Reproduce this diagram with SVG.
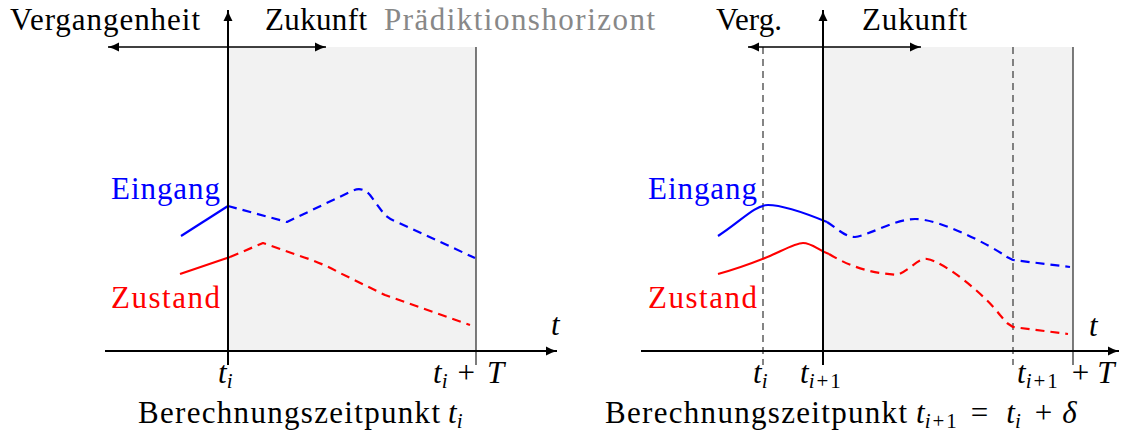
<svg xmlns="http://www.w3.org/2000/svg" width="1132" height="430" viewBox="0 0 1132 430">
<style>
text{font-family:"Liberation Serif",serif;font-size:31px;fill:#000}
.it{font-style:italic}
.sub{font-size:21px;font-style:italic}
.subn{font-size:21px;font-style:normal}
.gray{fill:#888}
.blue{fill:#0000ff}
.red{fill:#ff0000}
.axis{stroke:#000;stroke-width:2;fill:none}
.thin{stroke:#000;stroke-width:1.3;fill:none}
.border{stroke:#444;stroke-width:1.4;fill:none}
.vdash{stroke:#444;stroke-width:1.3;fill:none;stroke-dasharray:7 5}
.cb{stroke:#0000ff;stroke-width:2.2;fill:none;stroke-linejoin:round}
.cr{stroke:#ff0000;stroke-width:2.2;fill:none;stroke-linejoin:round}
.dash{stroke-dasharray:9 6}
.shade{fill:#f2f2f2}
</style>
<defs>
<marker id="ah" markerUnits="userSpaceOnUse" markerWidth="14" markerHeight="12" viewBox="-12 -6 14 12" refX="0" refY="0" orient="auto-start-reverse">
<path d="M-11,-4.5 Q-5,-1 0,0 Q-5,1 -11,4.5 Z" fill="#000"/>
</marker>
</defs>

<g id="panel-left">
<rect class="shade" x="228" y="47" width="248" height="304"/>
<line class="border" x1="476" y1="47" x2="476" y2="365"/>
</g>
<g id="panel-right">
<rect class="shade" x="823" y="47" width="250" height="304"/>
<line class="border" x1="1073" y1="47" x2="1073" y2="365"/>
<line class="vdash" x1="763" y1="47" x2="763" y2="365"/>
<line class="vdash" x1="1013" y1="47" x2="1013" y2="365"/>
</g>

<g id="curves-left">
<path class="cb" d="M181,236 L228,206"/>
<path class="cb dash" d="M228,206 L287,222 L352,191 Q362,186 370,195 L384,214 Q389,219 397,222 L475,258"/>
<path class="cr" d="M180,274 L230,257"/>
<path class="cr dash" d="M230,257 L263,243 L297,255 Q320,262 340,273 L385,295 L470,325"/>
</g>
<g id="curves-right">
<path class="cb" d="M718,236 C740,222 755,205 768,205 C785,205 810,215 827,222"/>
<path class="cb dash" d="M827,222 C838,229 845,237 855,237 C870,235 895,219 915,219 C940,219 990,245 1007,257 L1013,260 L1070,267"/>
<path class="cr" d="M718,274 C740,268 755,262 765,258 C780,252 795,243 803,243 C812,243 818,250 829,254"/>
<path class="cr dash" d="M829,254 C842,262 860,270 880,273 L897,275 C910,270 918,258 927,259 C945,262 985,295 1000,315 L1007,323 L1013,327 L1068,334"/>
</g>

<g id="connectors">
<line class="axis" x1="105" y1="351" x2="557" y2="351" marker-end="url(#ah)"/>
<line class="axis" x1="228" y1="365" x2="228" y2="10" marker-end="url(#ah)"/>
<line class="thin" x1="108" y1="47" x2="326" y2="47" marker-start="url(#ah)" marker-end="url(#ah)"/>
<line class="axis" x1="641" y1="351" x2="1119" y2="351" marker-end="url(#ah)"/>
<line class="axis" x1="823" y1="365" x2="823" y2="10" marker-end="url(#ah)"/>
<line class="thin" x1="748" y1="47" x2="921" y2="47" marker-start="url(#ah)" marker-end="url(#ah)"/>
</g>

<g id="labels-left">
<text x="10" y="30" textLength="190" lengthAdjust="spacing">Vergangenheit</text>
<text x="265" y="30" textLength="102" lengthAdjust="spacing">Zukunft</text>
<text class="gray" x="384" y="30" textLength="271" lengthAdjust="spacing">Prädiktionshorizont</text>
<text class="blue" x="111" y="199" textLength="109" lengthAdjust="spacing">Eingang</text>
<text class="red" x="111" y="308" textLength="109" lengthAdjust="spacing">Zustand</text>
<text class="it" x="551" y="335">t</text>
<text x="218" y="383"><tspan class="it">t</tspan><tspan class="sub" dy="5">i</tspan></text>
<text x="433" y="383"><tspan class="it">t</tspan><tspan class="sub" dy="5">i</tspan><tspan dy="-5" dx="10">+</tspan><tspan class="it" dx="12">T</tspan></text>
<text x="138" y="423" textLength="302" lengthAdjust="spacing">Berechnungszeitpunkt</text>
<text x="448" y="423"><tspan class="it">t</tspan><tspan class="sub" dy="5">i</tspan></text>
</g>
<g id="labels-right">
<text x="716" y="30" textLength="66" lengthAdjust="spacing">Verg.</text>
<text x="862" y="30" textLength="105" lengthAdjust="spacing">Zukunft</text>
<text class="blue" x="648" y="199" textLength="109" lengthAdjust="spacing">Eingang</text>
<text class="red" x="648" y="308" textLength="109" lengthAdjust="spacing">Zustand</text>
<text class="it" x="1089" y="336">t</text>
<text x="753" y="383"><tspan class="it">t</tspan><tspan class="sub" dy="5">i</tspan></text>
<text x="800" y="383"><tspan class="it">t</tspan><tspan class="sub" dy="5">i</tspan><tspan class="subn" dx="2">+</tspan><tspan class="subn" dx="2">1</tspan></text>
<text x="1017" y="383"><tspan class="it">t</tspan><tspan class="sub" dy="5">i</tspan><tspan class="subn" dx="2">+</tspan><tspan class="subn" dx="2">1</tspan><tspan dy="-5" dx="14">+</tspan><tspan class="it" dx="8">T</tspan></text>
<text x="605" y="423" textLength="302" lengthAdjust="spacing">Berechnungszeitpunkt</text>
<text x="916" y="423"><tspan class="it">t</tspan><tspan class="sub" dy="5">i</tspan><tspan class="subn" dx="2">+</tspan><tspan class="subn" dx="2">1</tspan><tspan dy="-5" dx="14">=</tspan><tspan class="it" dx="18">t</tspan><tspan class="sub" dy="5">i</tspan><tspan dy="-5" dx="14">+</tspan><tspan class="it" dx="10">δ</tspan></text>
</g>
</svg>
